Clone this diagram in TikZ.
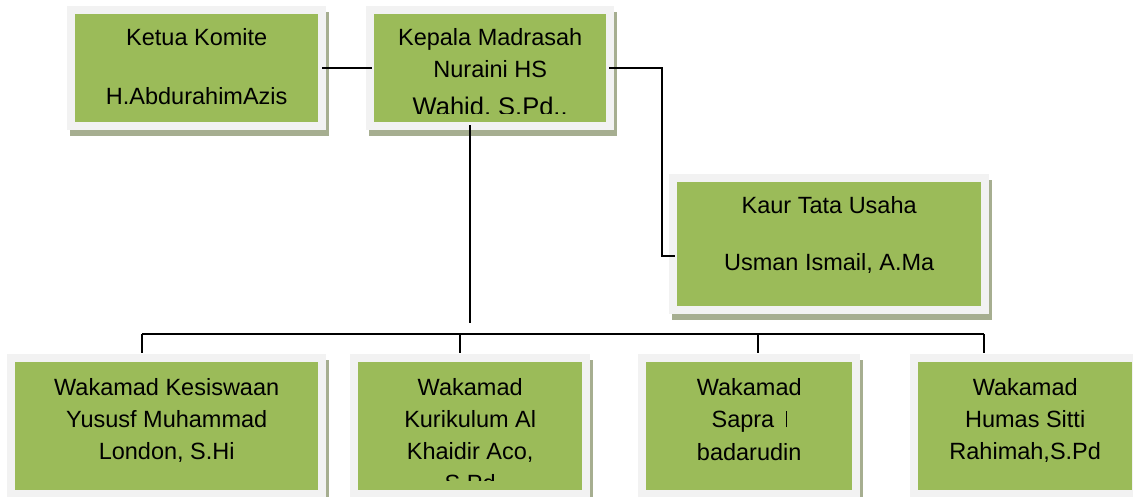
\documentclass[tikz,border=0pt]{standalone}
\usepackage{fontspec}
\setmainfont{Liberation Sans}
\usepackage{tikz}
\usetikzlibrary{positioning,calc,backgrounds}
\definecolor{boxgreen}{HTML}{9BBB59}
\definecolor{framegray}{HTML}{F2F2F2}
\definecolor{shadowgreen}{HTML}{A6AE90}

\begin{document}
\begin{tikzpicture}[x=1pt,y=-1pt,
    unit/.style={fill=boxgreen, inner sep=0pt, anchor=north west},
    line text/.style={font=\fontsize{23.5}{27}\selectfont, anchor=base, inner sep=0pt},
    link/.style={line width=1.4pt}]
    \useasboundingbox (0,0) rectangle (1133,497);

    % green boxes
    \node [unit, minimum width=243pt, minimum height=108pt] (ketua) at (75,14) {};
    \node [unit, minimum width=232pt, minimum height=108pt] (kepala) at (374,14) {};
    \node [unit, minimum width=304pt, minimum height=124pt] (kaur) at (677,182) {};
    \node [unit, minimum width=303pt, minimum height=128pt] (kesiswaan) at (15,362) {};
    \node [unit, minimum width=224pt, minimum height=128pt] (kurikulum) at (358,362) {};
    \node [unit, minimum width=206pt, minimum height=128pt] (sapra) at (646,362) {};
    \node [unit, minimum width=214pt, minimum height=128pt] (humas) at (918,362) {};

    % shadows and light frames
    \begin{scope}[on background layer]
      \foreach \n in {ketua,kepala,kaur,kesiswaan,kurikulum,sapra,humas}
        \fill [shadowgreen] ($(\n.north west)+(-5,-2)$) rectangle ($(\n.south east)+(11,14)$);
      \foreach \n in {ketua,kepala,kaur,kesiswaan,kurikulum,sapra,humas}
        \fill [framegray] ($(\n.north west)+(-8,-8)$) rectangle ($(\n.south east)+(8,8)$);
    \end{scope}

    % top row
    \node [line text] (ketua-1) at ($(ketua.north)+(0,32)$) {Ketua Komite};
    \node [line text] (ketua-2) at ($(ketua.north)+(0,91)$) {H.AbdurahimAzis};
    \node [line text] (kepala-1) at ($(kepala.north)+(0,32)$) {Kepala Madrasah};
    \node [line text] (kepala-2) at ($(kepala.north)+(0,64)$) {Nuraini HS};
    \begin{scope}
      \clip (kepala.north west) rectangle ($(kepala.south east)+(0,-9)$);
      \node [line text, font=\fontsize{25.5}{29}\selectfont] (kepala-3)
        at ($(kepala.north)+(0,102)$) {Wahid, S.Pd..};
    \end{scope}
    \node [line text] (kaur-1) at ($(kaur.north)+(0,32)$) {Kaur Tata Usaha};
    \node [line text] (kaur-2) at ($(kaur.north)+(0,88)$) {Usman Ismail, A.Ma};

    % bottom row
    \node [line text] (kesiswaan-1) at ($(kesiswaan.north)+(0,33)$) {Wakamad Kesiswaan};
    \node [line text] (kesiswaan-2) at ($(kesiswaan.north)+(0,65)$) {Yususf Muhammad};
    \node [line text] (kesiswaan-3) at ($(kesiswaan.north)+(0,97)$) {London, S.Hi};
    \node [line text] (kurikulum-1) at ($(kurikulum.north)+(0,33)$) {Wakamad};
    \node [line text] (kurikulum-2) at ($(kurikulum.north)+(0,65)$) {Kurikulum Al};
    \node [line text] (kurikulum-3) at ($(kurikulum.north)+(0,97)$) {Khaidir Aco,};
    \begin{scope}
      \clip (kurikulum.north west) rectangle ($(kurikulum.south east)+(0,-10)$);
      \node [line text] (kurikulum-4) at ($(kurikulum.north)+(0,129)$) {S.Pd};
    \end{scope}
    \node [line text] (sapra-1) at ($(sapra.north)+(0,33)$) {Wakamad};
    \node [line text] (sapra-2) at ($(sapra.north)+(0,65)$) {Sapra\hspace{11.5pt}\rule{1pt}{16pt}};
    \node [line text] (sapra-3) at ($(sapra.north)+(0,98)$) {badarudin};
    \node [line text] (humas-1) at ($(humas.north)+(0,33)$) {Wakamad};
    \node [line text] (humas-2) at ($(humas.north)+(0,65)$) {Humas Sitti};
    \node [line text] (humas-3) at ($(humas.north)+(0,97)$) {Rahimah,S.Pd};

    % connectors
    \coordinate (kaur-in) at ($(kaur.west)+(-2,12)$);
    \coordinate (stem-end) at (470,323);
    \draw [link] ([xshift=4pt]ketua.east) -- ([xshift=-2pt]kepala.west);
    \draw [link] ([xshift=3pt]kepala.east) -| ($(kaur-in)+(-13,0)$) -- (kaur-in);
    \draw [link, shorten <=3pt] (kepala.south -| stem-end) -- (stem-end);
    \draw [link] (142,334) -- (984,334);
    \foreach \n/\x in {kesiswaan/142,kurikulum/460,sapra/758,humas/984}
      \draw [link, shorten >=9pt] (\x,334) -- (\n.north -| \x,0);
\end{tikzpicture}
\end{document}
